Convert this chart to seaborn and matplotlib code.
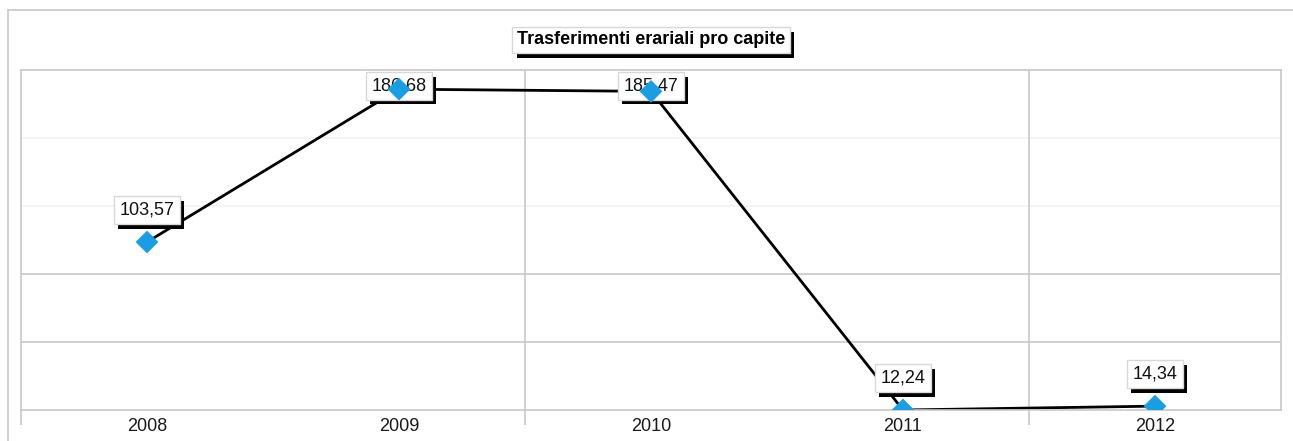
import matplotlib
matplotlib.use("Agg")
import matplotlib.pyplot as plt
import matplotlib.patheffects as pe
from matplotlib.lines import Line2D
from matplotlib.ticker import FixedLocator
import seaborn as sns
import pandas as pd

# Dati
anni = ["2008", "2009", "2010", "2011", "2012"]
valori = [103.57, 186.68, 185.47, 12.24, 14.34]
titolo = "Trasferimenti erariali pro capite"

df = pd.DataFrame({"Anno": anni, "Valore": valori})

sns.set_theme(style="white")
plt.rcParams["font.family"] = ["Liberation Sans", "DejaVu Sans"]

W, H = 1293, 441
fig = plt.figure(figsize=(W / 100, H / 100), dpi=100)
ax = fig.add_axes([21 / W, 1 - 410 / H, (1281 - 21) / W, (410 - 70) / H])

y_min = min(valori)
y_max = y_min + 340 * 0.5437
passo = (y_max - y_min) / 5

# griglia orizzontale (le due righe basse marcate, le altre appena visibili)
for k in range(1, 5):
    col = "#c8c8c8" if k <= 2 else "#f3f3f3"
    ax.axhline(y_min + k * passo, color=col, lw=1.2, zorder=0)

sns.lineplot(data=df, x="Anno", y="Valore", ax=ax, color="black", lw=2.0,
             sort=False, zorder=2)
sns.scatterplot(data=df, x="Anno", y="Valore", ax=ax, marker="D", s=135,
                color="#1b9de2", edgecolor="none", zorder=5)

ax.set_xlim(-0.5, len(anni) - 0.5)
ax.set_ylim(y_min, y_max)
ax.set_yticks([])
ax.set_xlabel("")
ax.set_ylabel("")

# tacche e griglia verticale ogni due categorie
ax.xaxis.set_minor_locator(FixedLocator([-0.5, 1.5, 3.5]))
ax.tick_params(axis="x", which="major", length=0, pad=6, labelsize=13,
               labelcolor="#1a1a1a")
ax.tick_params(axis="x", which="minor", length=11, width=1.2,
               color="#c8c8c8", bottom=True)
for xv in [1.5, 3.5]:
    ax.axvline(xv, color="#c8c8c8", lw=1.2, zorder=0)

for s in ax.spines.values():
    s.set_color("#c8c8c8")
    s.set_linewidth(1.2)

# etichette dei valori
ombra = [pe.SimplePatchShadow(offset=(3, -3.5), shadow_rgbFace="black", alpha=1),
         pe.Normal()]
for i, v in enumerate(valori):
    y_lab = min(v + 17.4, 188.6)
    t = ax.text(i, y_lab, f"{v:.2f}".replace(".", ","), ha="center",
                va="center", fontsize=13, color="#111111", zorder=4,
                bbox=dict(boxstyle="square,pad=0.3", fc="white",
                          ec="#d8d8d8", lw=1))
    t.get_bbox_patch().set_path_effects(ombra)

# titolo
tt = fig.text(651 / W, 1 - 40 / H, titolo, ha="center", va="center",
              fontsize=13, fontweight="bold", color="black",
              bbox=dict(boxstyle="square,pad=0.25", fc="white", ec="#d8d8d8",
                        lw=1))
tt.get_bbox_patch().set_path_effects(ombra)

# cornice esterna
fig.add_artist(Line2D([8 / W, 1], [1 - 10 / H, 1 - 10 / H],
                      color="#c8c8c8", lw=1.2, transform=fig.transFigure))
fig.add_artist(Line2D([8 / W, 8 / W], [0, 1 - 10 / H],
                      color="#c8c8c8", lw=1.2, transform=fig.transFigure))

fig.savefig("out.png", dpi=100)
